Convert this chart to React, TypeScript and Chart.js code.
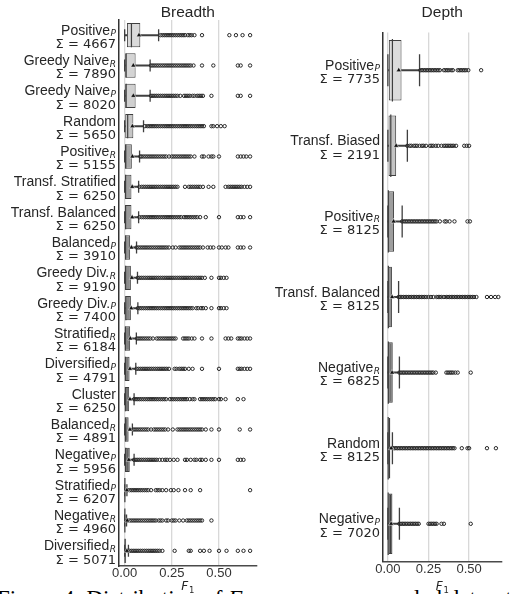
import React, { useEffect, useRef } from 'react';
import { Chart, registerables } from 'chart.js';
Chart.register(...registerables);

const X_TICKS = [0, 0.25, 0.5];
const X_MIN = -0.03;
const X_MAX = 0.7;

// ---------- Breadth panel ----------
const B_NAMES = ['Positive', 'Greedy Naive', 'Greedy Naive', 'Random', 'Positive', 'Transf. Stratified', 'Transf. Balanced', 'Balanced', 'Greedy Div.', 'Greedy Div.', 'Stratified', 'Diversified', 'Cluster', 'Balanced', 'Negative', 'Stratified', 'Negative', 'Diversified'];
const B_SUBS = ['P', 'R', 'P', '', 'R', '', '', 'P', 'R', 'P', 'R', 'P', '', 'R', 'P', 'P', 'R', 'R'];
const B_SUMS = [4667, 7890, 8020, 5650, 5155, 6250, 6250, 3910, 9190, 7400, 6184, 4791, 6250, 4891, 5956, 6207, 4960, 5071];
const B_WLO = [0, 0, 0, 0, 0, 0, 0, 0, 0, 0, 0, 0, 0, 0, 0, 0, 0, 0];
const B_Q1 = [0.012, 0.003, 0.003, 0.003, 0.002, 0.002, 0.002, 0.002, 0.002, 0.004, 0.002, 0.002, 0.002, 0.002, 0.004, 0, 0, 0];
const B_MED = [0.036, 0.008, 0.008, 0.016, 0.006, 0.005, 0.005, 0.005, 0.005, 0.006, 0.004, 0.004, 0.004, 0.004, 0.005, 0.001, 0.001, 0.002];
const B_Q3 = [0.083, 0.058, 0.058, 0.046, 0.038, 0.036, 0.036, 0.029, 0.033, 0.033, 0.029, 0.026, 0.024, 0.021, 0.027, 0.005, 0.004, 0.008];
const B_WHI = [0.18, 0.135, 0.135, 0.1, 0.079, 0.074, 0.074, 0.063, 0.068, 0.07, 0.062, 0.059, 0.05, 0.041, 0.05, 0.012, 0.01, 0.02];
const B_MEAN = [0.076, 0.046, 0.046, 0.041, 0.041, 0.04, 0.04, 0.036, 0.038, 0.035, 0.03, 0.028, 0.028, 0.028, 0.022, 0.012, 0.014, 0.012];
const B_COLORS = ['#dadada', '#d4d4d4', '#d0d0d0', '#c6c6c6', '#a6a6a6', '#a0a0a0', '#9a9a9a', '#949494', '#8c8c8c', '#868686', '#808080', '#7a7a7a', '#727272', '#6a6a6a', '#626262', '#5a5a5a', '#525252', '#4a4a4a'];
const B_OUT = [
  [0.19, 0.2, 0.21, 0.22, 0.23, 0.24, 0.25, 0.26, 0.27, 0.28, 0.29, 0.3, 0.31, 0.32, 0.335, 0.345, 0.355, 0.37, 0.41, 0.555, 0.59, 0.625, 0.665],
  [0.14, 0.15, 0.16, 0.17, 0.18, 0.19, 0.2, 0.21, 0.22, 0.23, 0.24, 0.25, 0.26, 0.27, 0.28, 0.29, 0.3, 0.31, 0.32, 0.33, 0.34, 0.35, 0.365, 0.41, 0.47, 0.6, 0.615, 0.665],
  [0.14, 0.15, 0.16, 0.17, 0.18, 0.19, 0.2, 0.21, 0.22, 0.23, 0.24, 0.25, 0.26, 0.27, 0.28, 0.295, 0.315, 0.325, 0.335, 0.345, 0.36, 0.37, 0.385, 0.395, 0.405, 0.415, 0.46, 0.6, 0.615, 0.665],
  [0.107, 0.12, 0.13, 0.14, 0.15, 0.16, 0.17, 0.18, 0.19, 0.2, 0.21, 0.22, 0.23, 0.24, 0.25, 0.26, 0.27, 0.28, 0.29, 0.3, 0.31, 0.32, 0.33, 0.34, 0.35, 0.36, 0.37, 0.38, 0.39, 0.4, 0.41, 0.42, 0.46, 0.47, 0.49, 0.51, 0.53],
  [0.083, 0.09, 0.1, 0.11, 0.12, 0.13, 0.14, 0.15, 0.16, 0.17, 0.18, 0.19, 0.2, 0.21, 0.22, 0.235, 0.25, 0.26, 0.27, 0.28, 0.29, 0.3, 0.31, 0.32, 0.33, 0.34, 0.35, 0.37, 0.41, 0.42, 0.445, 0.46, 0.47, 0.5, 0.6, 0.615, 0.63, 0.645, 0.665],
  [0.078, 0.09, 0.1, 0.11, 0.12, 0.13, 0.14, 0.15, 0.16, 0.17, 0.18, 0.19, 0.2, 0.21, 0.22, 0.23, 0.24, 0.25, 0.26, 0.27, 0.28, 0.32, 0.34, 0.35, 0.36, 0.37, 0.38, 0.39, 0.4, 0.415, 0.445, 0.47, 0.535, 0.55, 0.56, 0.57, 0.58, 0.59, 0.6, 0.61, 0.62, 0.635, 0.65, 0.665],
  [0.078, 0.09, 0.1, 0.11, 0.12, 0.13, 0.14, 0.15, 0.16, 0.17, 0.18, 0.19, 0.2, 0.21, 0.22, 0.23, 0.24, 0.25, 0.26, 0.27, 0.28, 0.29, 0.3, 0.315, 0.325, 0.335, 0.345, 0.355, 0.365, 0.375, 0.385, 0.4, 0.43, 0.5, 0.6, 0.615, 0.63, 0.665],
  [0.063, 0.073, 0.083, 0.093, 0.103, 0.113, 0.123, 0.133, 0.143, 0.153, 0.163, 0.173, 0.183, 0.193, 0.203, 0.213, 0.223, 0.235, 0.255, 0.27, 0.29, 0.3, 0.31, 0.32, 0.33, 0.34, 0.35, 0.36, 0.37, 0.38, 0.39, 0.4, 0.415, 0.44, 0.455, 0.47, 0.5, 0.515, 0.535, 0.55, 0.6, 0.615, 0.63, 0.665],
  [0.07, 0.08, 0.09, 0.1, 0.11, 0.12, 0.13, 0.14, 0.15, 0.16, 0.17, 0.18, 0.19, 0.2, 0.21, 0.22, 0.23, 0.24, 0.25, 0.26, 0.27, 0.28, 0.29, 0.3, 0.31, 0.32, 0.33, 0.34, 0.35, 0.36, 0.37, 0.38, 0.39, 0.4, 0.41, 0.425, 0.46, 0.5, 0.51, 0.525, 0.54],
  [0.07, 0.08, 0.09, 0.1, 0.11, 0.12, 0.13, 0.14, 0.15, 0.16, 0.17, 0.18, 0.19, 0.2, 0.21, 0.22, 0.23, 0.24, 0.25, 0.26, 0.27, 0.28, 0.29, 0.3, 0.31, 0.32, 0.33, 0.34, 0.35, 0.36, 0.38, 0.39, 0.405, 0.415, 0.43, 0.46, 0.5, 0.51, 0.525, 0.54],
  [0.066, 0.076, 0.086, 0.096, 0.106, 0.116, 0.126, 0.136, 0.15, 0.17, 0.18, 0.19, 0.2, 0.21, 0.22, 0.23, 0.24, 0.25, 0.26, 0.27, 0.31, 0.32, 0.33, 0.34, 0.355, 0.37, 0.41, 0.46, 0.535, 0.55, 0.565, 0.6, 0.61, 0.62, 0.635, 0.65, 0.665],
  [0.063, 0.073, 0.083, 0.093, 0.103, 0.113, 0.123, 0.133, 0.143, 0.153, 0.163, 0.173, 0.183, 0.193, 0.203, 0.213, 0.223, 0.235, 0.265, 0.275, 0.29, 0.3, 0.31, 0.32, 0.34, 0.36, 0.41, 0.5, 0.6, 0.61, 0.62, 0.635, 0.65, 0.665],
  [0.05, 0.06, 0.07, 0.08, 0.09, 0.1, 0.11, 0.12, 0.13, 0.14, 0.15, 0.16, 0.17, 0.18, 0.19, 0.2, 0.21, 0.22, 0.24, 0.25, 0.26, 0.27, 0.28, 0.29, 0.3, 0.31, 0.32, 0.33, 0.345, 0.36, 0.37, 0.4, 0.41, 0.42, 0.43, 0.44, 0.45, 0.46, 0.47, 0.48, 0.5, 0.51, 0.535, 0.6, 0.63],
  [0.045, 0.055, 0.065, 0.075, 0.085, 0.095, 0.105, 0.115, 0.125, 0.14, 0.155, 0.165, 0.175, 0.185, 0.195, 0.205, 0.215, 0.23, 0.255, 0.28, 0.29, 0.3, 0.31, 0.32, 0.33, 0.34, 0.35, 0.36, 0.37, 0.38, 0.39, 0.4, 0.41, 0.43, 0.46, 0.5, 0.61, 0.665],
  [0.05, 0.06, 0.07, 0.08, 0.09, 0.1, 0.11, 0.12, 0.13, 0.14, 0.15, 0.16, 0.17, 0.185, 0.2, 0.215, 0.225, 0.24, 0.26, 0.28, 0.32, 0.33, 0.35, 0.37, 0.38, 0.4, 0.41, 0.43, 0.46, 0.5, 0.6, 0.615, 0.63],
  [0.015, 0.025, 0.035, 0.045, 0.055, 0.065, 0.075, 0.085, 0.095, 0.105, 0.115, 0.125, 0.14, 0.165, 0.175, 0.185, 0.2, 0.22, 0.245, 0.26, 0.285, 0.32, 0.35, 0.4, 0.665],
  [0.015, 0.025, 0.035, 0.045, 0.055, 0.065, 0.075, 0.085, 0.095, 0.105, 0.115, 0.125, 0.135, 0.145, 0.155, 0.165, 0.18, 0.19, 0.2, 0.22, 0.23, 0.25, 0.26, 0.27, 0.29, 0.31, 0.33, 0.34, 0.35, 0.36, 0.37, 0.38, 0.39, 0.4, 0.41, 0.46],
  [0.015, 0.025, 0.035, 0.045, 0.055, 0.065, 0.075, 0.085, 0.095, 0.105, 0.115, 0.125, 0.135, 0.145, 0.155, 0.165, 0.175, 0.185, 0.2, 0.265, 0.34, 0.35, 0.4, 0.42, 0.45, 0.5, 0.54, 0.6, 0.63, 0.665],
];

// ---------- Depth panel ----------
const D_NAMES = ['Positive', 'Transf. Biased', 'Positive', 'Transf. Balanced', 'Negative', 'Random', 'Negative'];
const D_SUBS = ['P', '', 'R', '', 'R', '', 'P'];
const D_SUMS = [7735, 2191, 8125, 8125, 6825, 8125, 7020];
const D_WLO = [0, 0, 0, 0, 0, 0, 0];
const D_Q1 = [0.006, 0.0, 0.0, 0.0, 0.0, 0.0, 0.0];
const D_MED = [0.028, 0.018, 0.003, 0.003, 0.003, 0.002, 0.002];
const D_Q3 = [0.084, 0.051, 0.038, 0.025, 0.03, 0.015, 0.028];
const D_WHI = [0.195, 0.12, 0.088, 0.066, 0.071, 0.028, 0.071];
const D_MEAN = [0.067, 0.051, 0.035, 0.026, 0.026, 0.02, 0.02];
const D_COLORS = ['#dcdcdc', '#c4c4c4', '#9e9e9e', '#8a8a8a', '#717171', '#5a5a5a', '#404040'];
const D_OUT = [
  [0.2, 0.21, 0.22, 0.23, 0.24, 0.25, 0.26, 0.27, 0.28, 0.29, 0.3, 0.31, 0.32, 0.345, 0.355, 0.365, 0.375, 0.39, 0.4, 0.43, 0.44, 0.45, 0.46, 0.47, 0.48, 0.495, 0.574],
  [0.12, 0.135, 0.145, 0.16, 0.17, 0.18, 0.195, 0.21, 0.22, 0.235, 0.26, 0.27, 0.28, 0.295, 0.31, 0.33, 0.345, 0.355, 0.365, 0.375, 0.385, 0.395, 0.405, 0.42, 0.47, 0.485, 0.5],
  [0.088, 0.1, 0.11, 0.12, 0.13, 0.14, 0.15, 0.16, 0.17, 0.18, 0.19, 0.2, 0.21, 0.22, 0.23, 0.24, 0.25, 0.26, 0.27, 0.28, 0.29, 0.3, 0.32, 0.35, 0.36, 0.38, 0.41, 0.49, 0.505],
  [0.066, 0.076, 0.086, 0.096, 0.106, 0.116, 0.126, 0.136, 0.146, 0.156, 0.166, 0.176, 0.186, 0.196, 0.206, 0.216, 0.226, 0.236, 0.25, 0.265, 0.28, 0.3, 0.31, 0.32, 0.33, 0.345, 0.36, 0.37, 0.38, 0.39, 0.4, 0.41, 0.42, 0.43, 0.44, 0.45, 0.46, 0.47, 0.48, 0.49, 0.5, 0.51, 0.52, 0.53, 0.545, 0.61, 0.635, 0.66, 0.68],
  [0.071, 0.081, 0.091, 0.1, 0.11, 0.12, 0.13, 0.14, 0.15, 0.16, 0.17, 0.18, 0.19, 0.2, 0.21, 0.22, 0.23, 0.24, 0.25, 0.26, 0.27, 0.28, 0.295, 0.36, 0.37, 0.38, 0.39, 0.4, 0.415, 0.43, 0.51],
  [0.03, 0.04, 0.05, 0.06, 0.07, 0.08, 0.09, 0.1, 0.11, 0.12, 0.13, 0.14, 0.15, 0.16, 0.17, 0.18, 0.19, 0.2, 0.21, 0.22, 0.23, 0.24, 0.25, 0.26, 0.27, 0.28, 0.29, 0.3, 0.31, 0.32, 0.33, 0.34, 0.35, 0.36, 0.37, 0.38, 0.39, 0.4, 0.41, 0.455, 0.49, 0.5, 0.61, 0.665],
  [0.071, 0.081, 0.091, 0.1, 0.11, 0.12, 0.13, 0.14, 0.15, 0.16, 0.17, 0.18, 0.19, 0.25, 0.26, 0.27, 0.28, 0.29, 0.3, 0.33, 0.345, 0.51],
];

const EDGE = '#3f3f3f';
const SANS = '"Liberation Sans", Arial, sans-serif';
const DEJAVU = '"DejaVu Sans", sans-serif';

type Panel = {
  title: string; names: string[]; subs: string[]; sums: number[];
  wlo: number[]; q1: number[]; med: number[]; q3: number[]; whi: number[]; mean: number[];
  colors: string[]; out: number[][];
};

const BREADTH: Panel = { title: 'Breadth', names: B_NAMES, subs: B_SUBS, sums: B_SUMS, wlo: B_WLO, q1: B_Q1, med: B_MED, q3: B_Q3, whi: B_WHI, mean: B_MEAN, colors: B_COLORS, out: B_OUT };
const DEPTH: Panel = { title: 'Depth', names: D_NAMES, subs: D_SUBS, sums: D_SUMS, wlo: D_WLO, q1: D_Q1, med: D_MED, q3: D_Q3, whi: D_WHI, mean: D_MEAN, colors: D_COLORS, out: D_OUT };

function textPlugin(p: Panel) {
  return {
    id: 'panelText',
    afterDraw(chart: any) {
      const { ctx, chartArea, scales } = chart;
      const ys = scales.y;
      ctx.save();
      ctx.fillStyle = '#262626';
      ctx.textAlign = 'center';
      ctx.textBaseline = 'alphabetic';
      ctx.font = `15.5px ${SANS}`;
      const cx = (chartArea.left + chartArea.right) / 2;
      ctx.fillText(p.title, cx, 17);
      const right = chartArea.left - 3;
      p.names.forEach((n, i) => {
        const cy = ys.getPixelForValue(i);
        ctx.textAlign = 'left';
        ctx.font = `italic 9px ${DEJAVU}`;
        const sw = p.subs[i] ? ctx.measureText(p.subs[i]).width + 0.5 : 0;
        ctx.font = `14px ${SANS}`;
        const mw = ctx.measureText(n).width;
        const b1 = cy - 0.5;
        ctx.fillText(n, right - sw - mw, b1);
        if (p.subs[i]) {
          ctx.font = `italic 9px ${DEJAVU}`;
          ctx.fillText(p.subs[i], right - sw + 0.5, b1 + 1.5);
        }
        ctx.font = `13px ${DEJAVU}`;
        ctx.textAlign = 'right';
        ctx.fillText('Σ = ' + p.sums[i], right, cy + 12.8);
      });
      // x-axis title F_1
      ctx.textAlign = 'left';
      ctx.font = `italic 12px ${DEJAVU}`;
      const fw = ctx.measureText('F').width;
      ctx.font = `8.5px ${DEJAVU}`;
      const ow = ctx.measureText('1').width;
      const sx = cx - (fw + ow + 1) / 2;
      ctx.font = `italic 12px ${DEJAVU}`;
      ctx.fillText('F', sx, 590);
      ctx.font = `8.5px ${DEJAVU}`;
      ctx.fillText('1', sx + fw + 1, 592.5);
      ctx.restore();
    },
  };
}

function makeConfig(p: Panel, yWidth: number, boxHalf: number, capHalf: number): any {
  const idx = p.names.map((_, i) => i);
  const labels = idx.map((i) => String(i));
  const outliers = p.out.flatMap((arr, i) => arr.map((v) => ({ x: v, y: String(i) })));
  return {
    type: 'bar',
    data: {
      labels,
      datasets: [
        {
          type: 'bar', data: idx.map((i) => [p.q3[i], p.whi[i]]), backgroundColor: EDGE,
          barThickness: 1.3, grouped: false, order: 8, borderWidth: 0,
        },
        {
          type: 'bar', data: idx.map((i) => [p.wlo[i], Math.max(p.q1[i], p.wlo[i] + 0.0001)]), backgroundColor: EDGE,
          barThickness: 1.3, grouped: false, order: 7, borderWidth: 0,
        },
        {
          type: 'bar', data: idx.map((i) => [p.q1[i], p.q3[i]]), backgroundColor: p.colors,
          borderColor: EDGE, borderWidth: 1, borderSkipped: false, barPercentage: 0.8,
          categoryPercentage: 1, grouped: false, order: 6,
        },
        {
          type: 'scatter', data: idx.map((i) => ({ x: p.med[i], y: String(i) })), pointStyle: 'line',
          rotation: 90, pointRadius: boxHalf, borderColor: EDGE, pointBorderColor: EDGE, pointBorderWidth: 1.2, order: 5,
        },
        {
          type: 'scatter', data: idx.flatMap((i) => [{ x: p.wlo[i], y: String(i) }, { x: p.whi[i], y: String(i) }]),
          pointStyle: 'line', rotation: 90, pointRadius: capHalf, pointBorderColor: EDGE, borderColor: EDGE, pointBorderWidth: 1.3, order: 4,
        },
        {
          type: 'scatter', data: outliers, pointStyle: 'circle', pointRadius: 1.7,
          pointBackgroundColor: 'rgba(255,255,255,0)', pointBorderColor: '#262626', borderColor: '#262626', pointBorderWidth: 1, order: 3,
        },
        {
          type: 'scatter', data: idx.map((i) => ({ x: p.mean[i], y: String(i) })), pointStyle: 'triangle',
          pointRadius: 3, pointBackgroundColor: '#111111', pointBorderColor: '#ffffff', backgroundColor: '#111111', pointBorderWidth: 0.5, order: 1,
        },
      ],
    },
    options: {
      indexAxis: 'y',
      responsive: false,
      animation: false,
      events: [],
      devicePixelRatio: 1,
      layout: { padding: { top: 20, right: 4, bottom: 0, left: 0 } },
      plugins: { legend: { display: false }, tooltip: { enabled: false }, title: { display: false } },
      scales: {
        x: {
          type: 'linear', min: X_MIN, max: X_MAX,
          afterBuildTicks: (s: any) => { s.ticks = X_TICKS.map((v) => ({ value: v })); },
          afterFit: (s: any) => { s.height = 28; },
          ticks: { callback: (v: any) => Number(v).toFixed(2), font: { family: SANS, size: 13 }, color: '#333333', padding: 0, maxRotation: 0 },
          grid: { color: '#d8d8d8', lineWidth: 1.3, drawTicks: false },
          border: { display: true, color: '#4a4a4a', width: 1.5 },
        },
        y: {
          type: 'category', offset: true,
          afterFit: (s: any) => { s.width = yWidth; },
          ticks: { display: false },
          grid: { display: false },
          border: { display: true, color: '#333333', width: 1.5 },
        },
      },
    },
    plugins: [textPlugin(p)],
  };
}

export default function App() {
  const leftRef = useRef<HTMLCanvasElement>(null);
  const rightRef = useRef<HTMLCanvasElement>(null);
  useEffect(() => {
    const c1 = new Chart(leftRef.current as HTMLCanvasElement, makeConfig(BREADTH, 119, 12.1, 6));
    const c2 = new Chart(rightRef.current as HTMLCanvasElement, makeConfig(DEPTH, 113, 31.2, 16));
    return () => { c1.destroy(); c2.destroy(); };
  }, []);
  return (
    <div style={{ position: 'fixed', left: 0, top: 0, width: 526, height: 594, overflow: 'hidden', background: '#ffffff' }}>
      <div style={{ position: 'absolute', left: -3, top: 587, lineHeight: '24px', fontFamily: '"Liberation Serif", serif', fontSize: 23, whiteSpace: 'nowrap', color: '#000' }}>
        Figure 4: Distribution of <i>F</i><sub style={{ fontSize: 15 }}>1</sub> scores over sampled datasets
      </div>
      <canvas ref={leftRef} width={270} height={594} style={{ position: 'absolute', left: 0, top: 0, width: 270, height: 594 }} />
      <canvas ref={rightRef} width={264} height={594} style={{ position: 'absolute', left: 270, top: 0, width: 264, height: 594 }} />
    </div>
  );
}
